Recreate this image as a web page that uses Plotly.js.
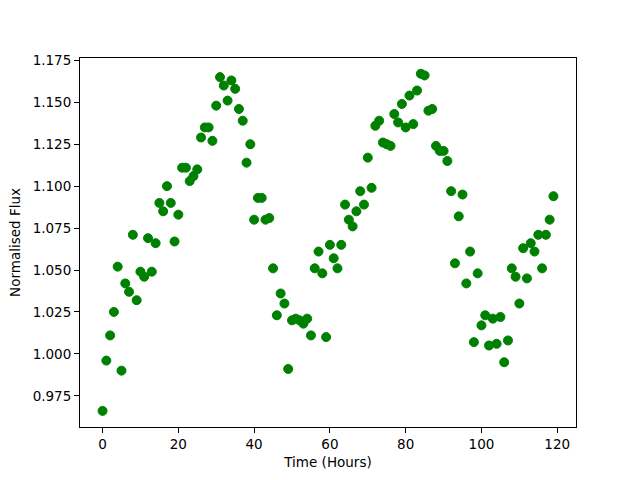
<!DOCTYPE html>
<html>
<head>
<meta charset="utf-8">
<script src="https://cdn.plot.ly/plotly-3.0.1.min.js"></script>
<style>html,body{margin:0;padding:0;background:#fff;}#chart{width:640px;height:480px;}</style>
</head>
<body>
<div id="chart"></div>
<script>
const timeHours = [];
for (let i = 0; i < 120; i++) timeHours.push(i);
const normalisedFlux = [
0.966,0.996,1.011,1.025,1.052,0.990,1.042,1.037,1.071,1.032,
1.049,1.046,1.069,1.049,1.066,1.090,1.085,1.100,1.090,1.067,
1.083,1.111,1.111,1.103,1.106,1.110,1.129,1.135,1.135,1.127,
1.148,1.165,1.160,1.151,1.163,1.158,1.146,1.139,1.114,1.125,
1.080,1.093,1.093,1.080,1.081,1.051,1.023,1.036,1.030,0.991,
1.020,1.021,1.020,1.018,1.021,1.011,1.051,1.061,1.048,1.010,
1.065,1.057,1.051,1.065,1.089,1.080,1.076,1.085,1.097,1.089,
1.117,1.099,1.136,1.139,1.126,1.125,1.124,1.143,1.138,1.149,
1.135,1.154,1.137,1.157,1.167,1.166,1.145,1.146,1.124,1.121,
1.121,1.115,1.097,1.054,1.082,1.095,1.042,1.061,1.007,1.048,
1.017,1.023,1.005,1.021,1.006,1.022,0.995,1.008,1.051,1.046,
1.030,1.063,1.045,1.066,1.061,1.071,1.051,1.071,1.080,1.094
];
const xTicks = [0,20,40,60,80,100,120];
const yTicks = [0.975,1.000,1.025,1.050,1.075,1.100,1.125,1.150,1.175];

const axisCommon = {
  showline: true, linecolor: '#000', linewidth: 1, mirror: true,
  ticks: 'outside', ticklen: 5, tickwidth: 1, tickcolor: '#000',
  showgrid: false, zeroline: false,
  tickfont: {family: 'DejaVu Sans', size: 13.5, color: '#000'}
};
const layout = {
  width: 640, height: 480,
  margin: {l: 80, r: 64, t: 57.6, b: 52.8},
  paper_bgcolor: '#fff', plot_bgcolor: '#fff',
  showlegend: false,
  font: {family: 'DejaVu Sans', color: '#000'},
  xaxis: Object.assign({}, axisCommon, {
    range: [-5.95, 124.95], tickvals: xTicks, ticktext: xTicks.map(String),
    title: {text: 'Time (Hours)', font: {family: 'DejaVu Sans', size: 13.5, color: '#000'}, standoff: 6}
  }),
  yaxis: Object.assign({}, axisCommon, {
    range: [0.9564, 1.1764], tickvals: yTicks, ticktext: yTicks.map(v => v.toFixed(3)),
    title: {text: 'Normalised Flux', font: {family: 'DejaVu Sans', size: 13.5, color: '#000'}, standoff: 8}
  })
};
const trace = {
  x: timeHours, y: normalisedFlux, type: 'scatter', mode: 'markers',
  marker: {color: '#008000', size: 9, line: {color: '#008000', width: 1}},
  hoverinfo: 'skip'
};
Plotly.newPlot('chart', [trace], layout, {displayModeBar: false, staticPlot: true});
</script>
</body>
</html>
